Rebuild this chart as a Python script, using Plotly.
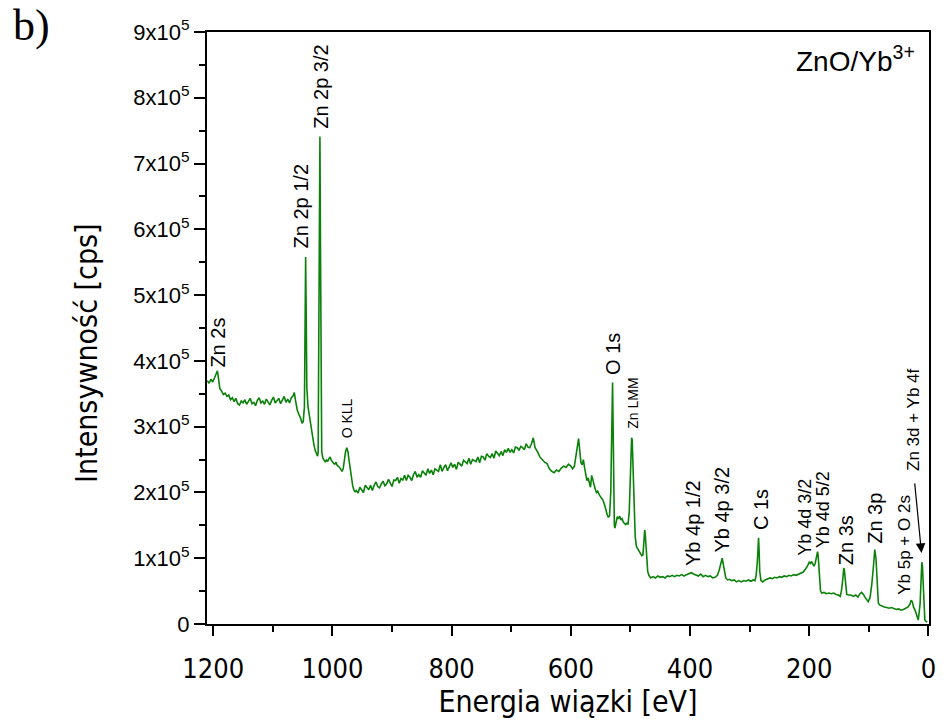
import plotly.graph_objects as go

# XPS survey spectrum of ZnO/Yb3+ : binding energy [eV] and intensity [10^3 cps]
energy_ev = [
    1210, 1207, 1204, 1201, 1198, 1195, 1193, 1191, 1189, 1186,
    1183, 1180, 1177, 1174, 1171, 1168, 1165, 1162, 1159, 1156,
    1153, 1150, 1147, 1144, 1141, 1138, 1135, 1132, 1129, 1126,
    1123, 1120, 1117, 1114, 1111, 1108, 1105, 1102, 1099, 1096,
    1093, 1090, 1087, 1084, 1081, 1078, 1075, 1072, 1069, 1066,
    1064, 1062, 1059, 1056, 1053, 1051, 1049, 1047, 1046, 1045,
    1044, 1043, 1041, 1039, 1037, 1035, 1033, 1031, 1029, 1027,
    1025, 1024, 1023, 1022, 1021, 1020, 1019, 1018, 1016, 1014,
    1012, 1010, 1008, 1006, 1004, 1002, 1000, 998, 996, 994,
    992, 990, 988, 986, 984, 982, 980, 978, 976, 974,
    972, 970, 968, 966, 964, 962,
    960, 957, 954, 951, 948, 945, 942, 939, 936, 933,
    930, 927, 924, 921, 918, 915, 912, 909, 906, 903,
    900, 897, 894, 891, 888, 885, 882, 879, 876, 873,
    870, 867, 864, 861, 858, 855, 852, 849, 846, 843,
    840, 837, 834, 831, 828, 825, 822, 819, 816, 813,
    810, 807, 804, 801, 798, 795, 792, 789, 786, 783,
    780, 777, 774, 771, 768, 765, 762, 759, 756, 753,
    750, 747, 744, 741, 738, 735, 732, 729, 726, 723,
    720, 717, 714, 711, 708, 705, 702, 699, 696, 693,
    690, 687, 684, 681, 678, 675, 672, 669, 666,
    663, 660, 656, 652, 648, 644, 640, 636, 632, 628,
    624, 620, 616, 612, 608, 604, 600, 597, 594, 591,
    589, 587, 585, 583, 581, 579, 577, 575, 573, 571,
    569, 567, 565, 563, 561, 559, 557, 555, 552, 549,
    546, 543, 541, 539, 537, 535, 533, 531, 530, 529,
    528, 527, 526, 524, 522, 520, 518, 516, 514, 512,
    510, 508, 506, 504, 502, 500, 498, 497, 496, 494,
    492, 490, 487, 484, 481, 479, 477, 476, 475, 473,
    471, 469, 466, 462, 458, 454, 450, 446, 442, 438,
    434, 430, 426, 422, 418, 414, 410, 406, 402, 398,
    394, 390, 386, 382, 378, 374, 370, 366, 362, 358,
    354, 351, 348, 346, 344, 342, 340, 337, 334, 330,
    326, 322, 318, 314, 310, 306, 302, 298, 294, 291,
    289, 287, 285, 284, 283, 281, 278, 274, 270, 266,
    262, 258, 254, 250, 246, 242, 238, 234, 230, 226,
    222, 218, 214, 210, 206, 203, 200, 198, 196, 194,
    192, 190, 188, 186, 185, 183, 181, 179, 175, 171,
    167, 163, 159, 155, 151, 148, 146, 144, 142, 141,
    139, 137, 134, 130, 126, 122, 118, 115, 112, 109,
    106, 103, 101, 98, 95, 92, 90, 88, 86, 84,
    82, 78, 74, 70, 66, 62, 58, 54, 50, 46,
    42, 38, 34, 31, 29, 27, 25, 22, 19, 17,
    14, 12, 11, 10, 8, 6, 4, 2,
]

intensity_kcps = [
    370, 366, 372, 368, 374, 380, 385, 372, 358, 354,
    349, 351, 346, 348, 341, 344, 338, 343, 335, 333,
    339, 336, 341, 334, 338, 343, 335, 337, 332, 340,
    344, 336, 339, 334, 342, 338, 333, 340, 345, 336,
    339, 343, 335, 341, 346, 337, 342, 336, 344, 347,
    352, 340, 325, 318, 312, 305, 308, 330, 420, 558,
    470, 360, 330, 318, 304, 292, 282, 272, 264, 258,
    255, 262, 400, 600, 741, 560, 330, 262, 252, 248,
    246, 250, 247, 251, 254, 249, 246, 244, 243, 246,
    241, 240, 238, 235, 232, 236, 250, 262, 268, 262,
    248, 232, 218, 210, 204, 201,
    203, 199, 208, 203, 200, 211, 207, 204, 211, 203,
    211, 216, 209, 207, 213, 217, 210, 213, 220, 213,
    209, 219, 218, 223, 214, 221, 219, 226, 218, 226,
    223, 218, 227, 232, 223, 227, 223, 233, 230, 226,
    236, 229, 234, 227, 236, 234, 232, 242, 232, 238,
    242, 233, 238, 245, 238, 243, 235, 246, 243, 240,
    249, 246, 244, 252, 243, 250, 248, 247, 254, 245,
    255, 254, 249, 259, 255, 253, 259, 252, 263, 259,
    256, 262, 256, 265, 261, 267, 261, 265, 260, 269,
    268, 264, 270, 268, 265, 274, 269, 268, 274,
    283, 268, 262, 254, 250, 246, 244, 236, 232, 230,
    234, 232, 237, 240, 238, 243, 240, 236, 240, 255,
    270, 282, 262, 245, 242, 250, 238, 226, 218, 222,
    212, 208, 226, 218, 208, 205, 200, 202, 196, 192,
    188, 180, 172, 166, 162, 165, 200, 330, 367, 300,
    180, 150, 146, 158, 163, 160, 164, 158, 160, 155,
    153, 151, 153, 152, 170, 230, 283, 280, 255, 180,
    133, 118, 114, 108, 104, 105, 125, 143, 135, 100,
    80, 74, 70, 72, 70, 73, 71, 72, 70, 73,
    72, 74, 72, 74, 73, 75, 73, 75, 76, 78,
    76, 75, 73, 76, 72, 74, 72, 73, 70, 71,
    74, 82, 93, 100, 90, 76, 70, 67, 68, 66,
    67, 64, 66, 64, 66, 65, 67, 65, 67, 66,
    74, 95, 131, 110, 80, 66, 64, 67, 68, 70,
    69, 71, 70, 72, 71, 73, 72, 74, 73, 75,
    74, 76, 77, 79, 84, 88, 94, 92, 95, 90,
    88, 92, 100, 110, 104, 75, 50, 47, 48, 46,
    47, 46, 47, 45, 44, 42, 50, 65, 85, 82,
    58, 45, 44, 44, 42, 44, 41, 46, 48, 45,
    40, 37, 34, 40, 60, 90, 113, 100, 60, 32,
    29, 27, 26, 25, 24, 25, 23, 22, 23, 21,
    22, 24, 26, 30, 36, 34, 26, 20, 10, 6,
    30, 70, 94, 88, 50, 6, 4, 3,
]

intensity_cps = [v * 1000 for v in intensity_kcps]

# y tick labels in "Nx10^5" notation
y_tick_vals = [i * 100000 for i in range(10)]
y_tick_text = ["0"] + [f"{i}x10<sup>5</sup>" for i in range(1, 10)]
x_tick_vals = [1200, 1000, 800, 600, 400, 200, 0]

# Peak assignments: (label, energy position, intensity position, font size)
peak_labels = [
    ("Zn 2s", 1191.8, 428000, 20),
    ("Zn 2p 1/2", 1052.5, 635000, 20),
    ("Zn 2p 3/2", 1019.4, 818000, 20),
    ("O KLL", 976.3, 312000, 14),
    ("O 1s", 530.4, 411000, 20),
    ("Zn LMM", 495.6, 335000, 14),
    ("Yb 4p 1/2", 396.2, 154000, 20),
    ("Yb 4p 3/2", 346.4, 174000, 20),
    ("C 1s", 281.8, 174000, 20),
    ("Yb 4d 3/2", 207.2, 163000, 18),
    ("Yb 4d 5/2", 177.4, 174000, 18),
    ("Zn 3s", 139.2, 128000, 20),
    ("Zn 3p", 89.5, 160000, 20),
    ("Yb 5p + O 2s", 41.4, 120000, 17),
    ("Zn 3d + Yb 4f", 24.9, 311000, 17),
]

SANS = "Liberation Sans, Arial, sans-serif"
NARROW = "DejaVu Sans Condensed, Liberation Sans Narrow, Liberation Sans, sans-serif"

fig = go.Figure()
fig.add_trace(go.Scatter(
    x=energy_ev, y=intensity_cps, mode="lines",
    line=dict(color="rgb(10,130,10)", width=1.6),
    showlegend=False, hoverinfo="skip",
))

annotations = []
for text, xe, yc, fs in peak_labels:
    annotations.append(dict(
        x=xe, y=yc, xref="x", yref="y", text=text, textangle=-90,
        showarrow=False, xanchor="center", yanchor="middle",
        font=dict(family=SANS, size=fs, color="black"),
    ))

# arrow pointing at the Zn 3d + Yb 4f peak
annotations.append(dict(
    x=11.6, y=108000, ax=23.2, ay=216000, xref="x", yref="y", axref="x", ayref="y",
    text="", showarrow=True, arrowhead=2, arrowsize=1.6, arrowwidth=1.2, arrowcolor="black",
))

annotations.append(dict(
    x=0.983, y=0.955, xref="paper", yref="paper", text="ZnO/Yb<sup>3+</sup>",
    showarrow=False, xanchor="right", yanchor="middle",
    font=dict(family=SANS, size=28, color="black"),
))

annotations.append(dict(
    x=-0.272, y=1.056, xref="paper", yref="paper", text="b)",
    showarrow=False, xanchor="left", yanchor="top",
    font=dict(family="Liberation Serif, Times New Roman, serif", size=44, color="black"),
))

# y-axis title, set slightly below the plot's vertical centre
annotations.append(dict(
    x=-0.166, y=0.458, xref="paper", yref="paper", text="Intensywność [cps]",
    textangle=-90, showarrow=False, xanchor="center", yanchor="middle",
    font=dict(family=NARROW, size=30, color="black"),
))

fig.update_layout(
    width=947, height=724,
    margin=dict(l=207, r=11, t=32, b=100),
    paper_bgcolor="white", plot_bgcolor="white",
    annotations=annotations,
    xaxis=dict(
        range=[1210.5, -1], tickvals=x_tick_vals,
        ticks="outside", ticklen=10, tickwidth=2, tickcolor="black",
        showline=True, linewidth=2, linecolor="black", mirror=True,
        showgrid=False, zeroline=False, ticklabelstandoff=10,
        tickfont=dict(family=NARROW, size=27, color="black"),
        minor=dict(dtick=100, tick0=0, ticks="outside", ticklen=6, tickwidth=2, tickcolor="black"),
        title=dict(text="Energia wiązki [eV]", font=dict(family=NARROW, size=30, color="black"), standoff=2),
    ),
    yaxis=dict(
        range=[0, 900000], tickvals=y_tick_vals, ticktext=y_tick_text,
        ticks="outside", ticklen=11, tickwidth=2, tickcolor="black",
        showline=True, linewidth=2, linecolor="black", mirror=True,
        showgrid=False, zeroline=False,
        tickfont=dict(family=SANS, size=22, color="black"),
        minor=dict(dtick=50000, tick0=0, ticks="outside", ticklen=6, tickwidth=2, tickcolor="black"),
    ),
)

fig.write_html("out.html")
